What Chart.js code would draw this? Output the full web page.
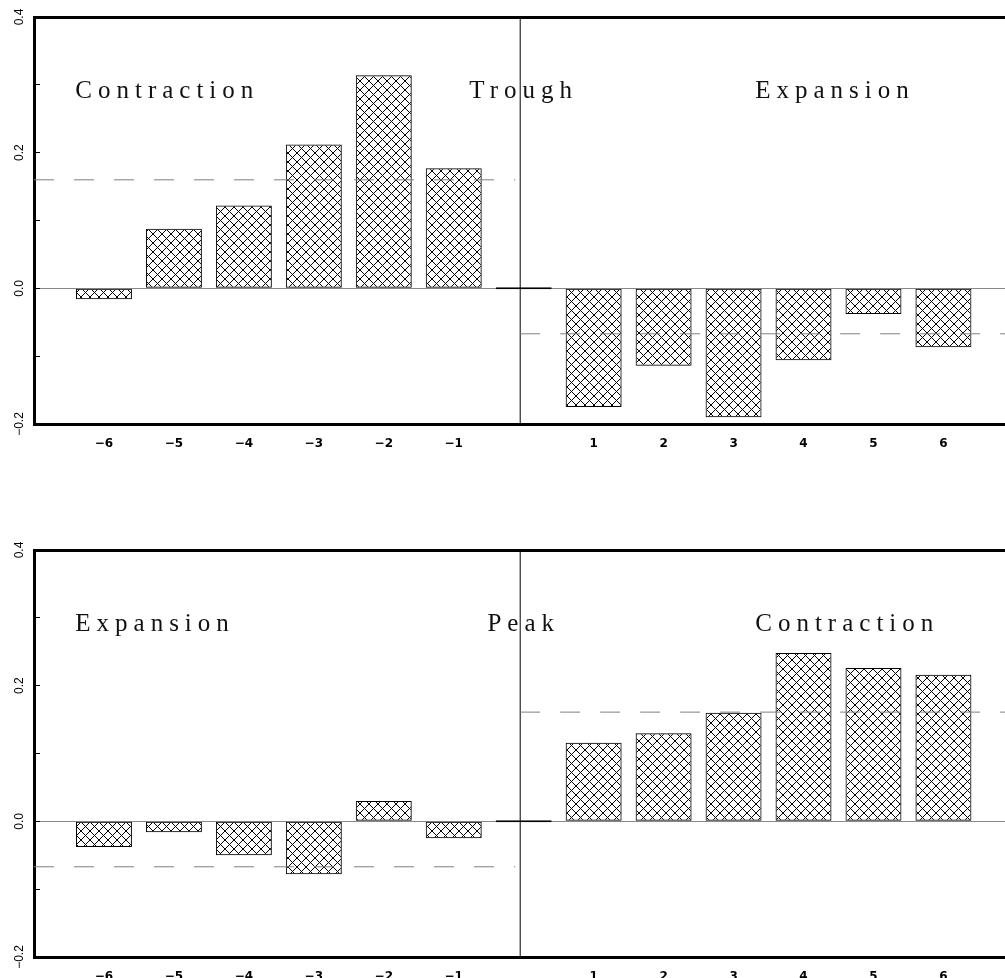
<!DOCTYPE html>
<html>
<head>
<meta charset="utf-8">
<title>Turning points</title>
<script src="https://cdn.jsdelivr.net/npm/chart.js"></script>
<style>
body { margin: 0; background: #fff; }
canvas { display: block; }
</style>
</head>
<body>
<canvas id="troughChart" width="1005" height="489"></canvas>
<canvas id="peakChart" width="1005" height="489"></canvas>
<script>
// months around the turning point (0 = the turning point itself)
var months = [-6, -5, -4, -3, -2, -1, 0, 1, 2, 3, 4, 5, 6];
var troughValues = [-0.016, 0.088, 0.122, 0.212, 0.314, 0.177, 0, -0.175, -0.114, -0.190, -0.106, -0.038, -0.087];
var peakValues = [-0.038, -0.016, -0.050, -0.078, 0.030, -0.025, 0, 0.116, 0.130, 0.160, 0.248, 0.226, 0.216];
// phase means: [before, after]
var troughMeans = [0.160, -0.067];
var peakMeans = [-0.067, 0.161];
var troughLabels = ['Contraction', 'Trough', 'Expansion'];
var peakLabels = ['Expansion', 'Peak', 'Contraction'];
var yTicks = [-0.2, -0.1, 0, 0.1, 0.2, 0.3, 0.4];

// layout
var X_MIN = -7, X_MAX = 6.88;
var DIVIDER = -0.05, LEFT_MEAN_END = -0.12;
var TEXT_X = [-6.41, 0, 3.31], TEXT_ALIGN = ['left', 'center', 'left'], TEXT_Y = 0.281;

function makeHatch(ctx) {
	var c = document.createElement('canvas');
	c.width = 9; c.height = 9;
	var g = c.getContext('2d');
	g.fillStyle = '#000';
	for (var i = 0; i < 9; i++) {
		g.fillRect(i, i, 1, 1);
		g.fillRect(8 - i, i, 1, 1);
	}
	return ctx.createPattern(c, 'repeat');
}

var phaseText = {
	id: 'phaseText',
	afterDatasetsDraw: function(chart, args, opts) {
		var ctx = chart.ctx, xs = chart.scales.x, ys = chart.scales.y;
		ctx.save();
		ctx.font = '25px "Liberation Serif"';
		ctx.letterSpacing = '6px';
		ctx.fillStyle = '#111';
		ctx.textBaseline = 'alphabetic';
		opts.labels.forEach(function(t, i) {
			ctx.textAlign = TEXT_ALIGN[i];
			ctx.fillText(t, xs.getPixelForValue(TEXT_X[i]), ys.getPixelForValue(TEXT_Y));
		});
		ctx.restore();
	}
};

function fmt(v) {
	return String(v).replace('-', '\u2212');
}

function makePanel(id, values, means, labels, topH, bottomH) {
	var canvas = document.getElementById(id);
	var ctx = canvas.getContext('2d');
	var yMin = yTicks[0], yMax = yTicks[yTicks.length - 1];
	var bars = months.map(function(m, i) { return {x: m, y: values[i]}; });

	return new Chart(ctx, {
		type: 'bar',
		data: {
			datasets: [{
				type: 'line',
				data: [{x: X_MIN, y: means[0]}, {x: LEFT_MEAN_END, y: means[0]}],
				borderColor: '#808080', borderWidth: 1, borderDash: [20, 20],
				pointRadius: 0, order: 0
			}, {
				type: 'line',
				data: [{x: DIVIDER, y: means[1]}, {x: X_MAX, y: means[1]}],
				borderColor: '#808080', borderWidth: 1, borderDash: [20, 20],
				pointRadius: 0, order: 0
			}, {
				type: 'line',
				data: [{x: DIVIDER, y: yMin}, {x: DIVIDER, y: yMax}],
				borderColor: '#000', borderWidth: 1,
				pointRadius: 0, order: 0
			}, {
				type: 'bar',
				data: bars,
				backgroundColor: makeHatch(ctx),
				borderColor: '#000',
				borderWidth: 1,
				borderSkipped: false,
				minBarLength: 2,
				barPercentage: 1,
				categoryPercentage: 0.8,
				order: 1
			}]
		},
		options: {
			responsive: false,
			animation: false,
			layout: { padding: 0 },
			plugins: {
				legend: { display: false },
				tooltip: { enabled: false },
				phaseText: { labels: labels }
			},
			scales: {
				x: {
					type: 'linear', position: 'bottom', min: X_MIN, max: X_MAX, offset: false,
					afterBuildTicks: function(s) { s.ticks = months.map(function(v) { return {value: v}; }); },
					afterFit: function(s) { s.height = bottomH; },
					grid: { display: false, offset: false },
					border: { color: '#000', width: 3 },
					ticks: {
						padding: 5, autoSkip: false, maxRotation: 0, color: '#000',
						font: { family: 'DejaVu Sans', size: 12, weight: 'bold' },
						callback: function(v) { return v === 0 ? '' : fmt(v); }
					}
				},
				xTop: {
					type: 'linear', position: 'top', min: X_MIN, max: X_MAX, offset: false,
					afterFit: function(s) { s.height = topH; },
					grid: { display: false, offset: false },
					ticks: { display: false },
					border: { color: '#000', width: 3 }
				},
				y: {
					min: yMin, max: yMax,
					afterBuildTicks: function(s) { s.ticks = yTicks.map(function(v) { return {value: v}; }); },
					afterFit: function(s) { s.width = 34; },
					border: { color: '#000', width: 3 },
					grid: {
						color: function(c) { return c.tick && Math.abs(c.tick.value) < 1e-9 ? '#888' : 'rgba(0,0,0,0)'; },
						tickColor: '#000', tickLength: -6, lineWidth: 1
					},
					ticks: {
						minRotation: 90, maxRotation: 90, crossAlign: 'center', padding: 8,
						autoSkip: false, color: '#000',
						font: { family: 'Liberation Sans', size: 12 },
						callback: function(v) { return Math.round(v * 10) % 2 === 0 ? fmt(v.toFixed(1)) : ''; }
					}
				}
			}
		},
		plugins: [phaseText]
	});
}

makePanel('troughChart', troughValues, troughMeans, troughLabels, 17, 65);
makePanel('peakChart', peakValues, peakMeans, peakLabels, 61, 21);
</script>
</body>
</html>
